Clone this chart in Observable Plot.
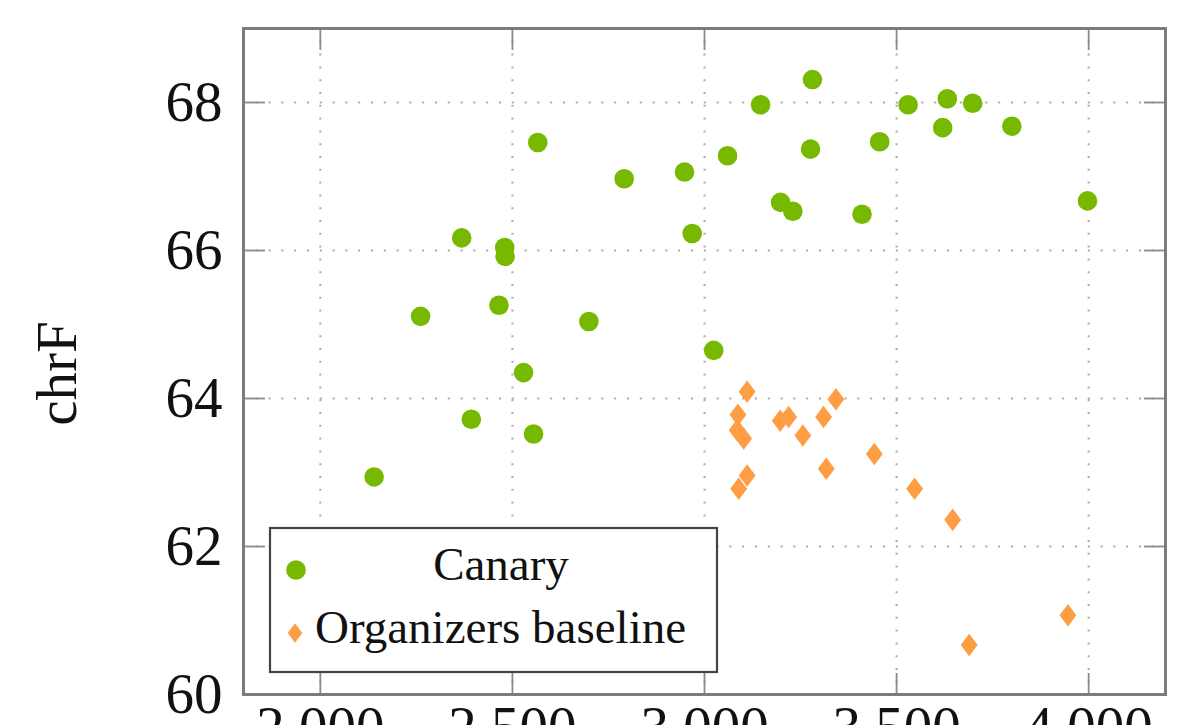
<!DOCTYPE html>
<html>
<head>
<meta charset="utf-8">
<script src="https://cdn.jsdelivr.net/npm/d3@7"></script>
<script src="https://cdn.jsdelivr.net/npm/@observablehq/plot@0.6"></script>
<style>
  html, body { margin: 0; padding: 0; background: white; }
  #wrap { position: relative; width: 1200px; height: 725px; overflow: hidden; }
  #legend { position: absolute; left: 268px; top: 526px; }
</style>
</head>
<body>
<div id="wrap">
  <div id="chart"></div>
  <svg id="legend" width="452" height="148"></svg>
</div>
<script>
// ---- data ----
const canaryX = [2140, 2261, 2368, 2393, 2465, 2480, 2481, 2529, 2555, 2566, 2699, 2791, 2948, 2968, 3024, 3060, 3146, 3198, 3230, 3276, 3281, 3410, 3456, 3530, 3620, 3632, 3698, 3800, 3997];
const canaryY = [62.94, 65.11, 66.17, 63.72, 65.26, 66.04, 65.92, 64.35, 63.52, 67.46, 65.04, 66.97, 67.06, 66.23, 64.65, 67.28, 67.97, 66.65, 66.53, 67.37, 68.31, 66.49, 67.47, 67.97, 67.66, 68.05, 67.99, 67.68, 66.67];

const baselineX = [3111, 3087, 3085, 3102, 3197, 3219, 3256, 3310, 3342, 3317, 3111, 3089, 3442, 3547, 3646, 3946, 3689];
const baselineY = [64.09, 63.78, 63.57, 63.46, 63.70, 63.75, 63.50, 63.75, 63.99, 63.05, 62.96, 62.78, 63.25, 62.78, 62.36, 61.07, 60.67];

const seriesNames = ["Canary", "Organizers baseline"];
const seriesColors = ["#76b900", "#ff9d45"];
const xTicks = [2000, 2500, 3000, 3500, 4000];
const yTicks = [60, 62, 64, 66, 68];
const yLabel = "chrF";

// ---- build ----
const canary = canaryX.map((x, i) => ({x, y: canaryY[i]}));
const baseline = baselineX.map((x, i) => ({x, y: baselineY[i]}));

const tallDiamond = {
  draw(ctx, size) {
    const r = Math.sqrt(size / Math.PI);
    ctx.moveTo(0, -1.15 * r);
    ctx.lineTo(0.86 * r, 0);
    ctx.lineTo(0, 1.15 * r);
    ctx.lineTo(-0.86 * r, 0);
    ctx.closePath();
  }
};

const font = "'Liberation Serif', 'DejaVu Serif', serif";
const gridStyle = {stroke: "#a8a8a8", strokeOpacity: 1, strokeWidth: 2, strokeDasharray: "2,10.8"};
const tickStyle = {stroke: "#8a8a8a", strokeWidth: 1.8, tickFormat: () => "", label: null};

const chart = Plot.plot({
  width: 1200,
  height: 725,
  marginLeft: 243,
  marginRight: 35,
  marginTop: 28,
  marginBottom: 31,
  style: {fontFamily: font, fontSize: "57px", background: "white", color: "#111"},
  x: {domain: [1800, 4200]},
  y: {domain: [60, 69]},
  marks: [
    Plot.gridX(xTicks, gridStyle),
    Plot.gridY(yTicks, gridStyle),
    Plot.axisX(xTicks, {anchor: "top", tickSize: 21, insetTop: 21, ...tickStyle}),
    Plot.axisX(xTicks, {anchor: "bottom", tickSize: 21, insetBottom: 21, ...tickStyle}),
    Plot.axisY(yTicks, {anchor: "left", tickSize: 22, insetLeft: 22, ...tickStyle}),
    Plot.axisY(yTicks, {anchor: "right", tickSize: 22, insetRight: 22, ...tickStyle}),
    Plot.axisX(xTicks, {anchor: "bottom", tickSize: 0, tickPadding: 11, fontSize: 57, fill: "#111", label: null, tickFormat: d3.format(",")}),
    Plot.axisY(yTicks, {anchor: "left", tickSize: 0, tickPadding: 21, fontSize: 57, fill: "#111", label: null, tickFormat: d3.format("d")}),
    Plot.text([yLabel], {text: d => d, frameAnchor: "left", rotate: -90, dx: -186, dy: 12, fontSize: 57, fill: "#111", textAnchor: "middle", lineAnchor: "middle"}),
    Plot.dot(canary, {x: "x", y: "y", r: 9.8, fill: seriesColors[0], stroke: "none"}),
    Plot.dot(baseline, {x: "x", y: "y", r: 9.8, symbol: tallDiamond, fill: seriesColors[1], stroke: "none"}),
    Plot.frame({stroke: "#7c7c7c", strokeWidth: 3})
  ]
});
document.getElementById("chart").appendChild(chart);

// ---- legend ----
const lg = d3.select("#legend");
lg.append("rect").attr("x", 2).attr("y", 2).attr("width", 447).attr("height", 144)
  .attr("fill", "white").attr("stroke", "#444").attr("stroke-width", 2.2);
lg.append("circle").attr("cx", 28).attr("cy", 44).attr("r", 9.8).attr("fill", seriesColors[0]);
lg.append("path").attr("transform", "translate(27,107)")
  .attr("d", d3.symbol(tallDiamond, Math.PI * 8.5 * 8.5)()).attr("fill", seriesColors[1]);
lg.append("text").attr("x", 233).attr("y", 54).attr("text-anchor", "middle")
  .attr("font-family", font).attr("font-size", 47).attr("fill", "#111").text(seriesNames[0]);
lg.append("text").attr("x", 47).attr("y", 117)
  .attr("font-family", font).attr("font-size", 47).attr("fill", "#111").text(seriesNames[1]);
</script>
</body>
</html>
